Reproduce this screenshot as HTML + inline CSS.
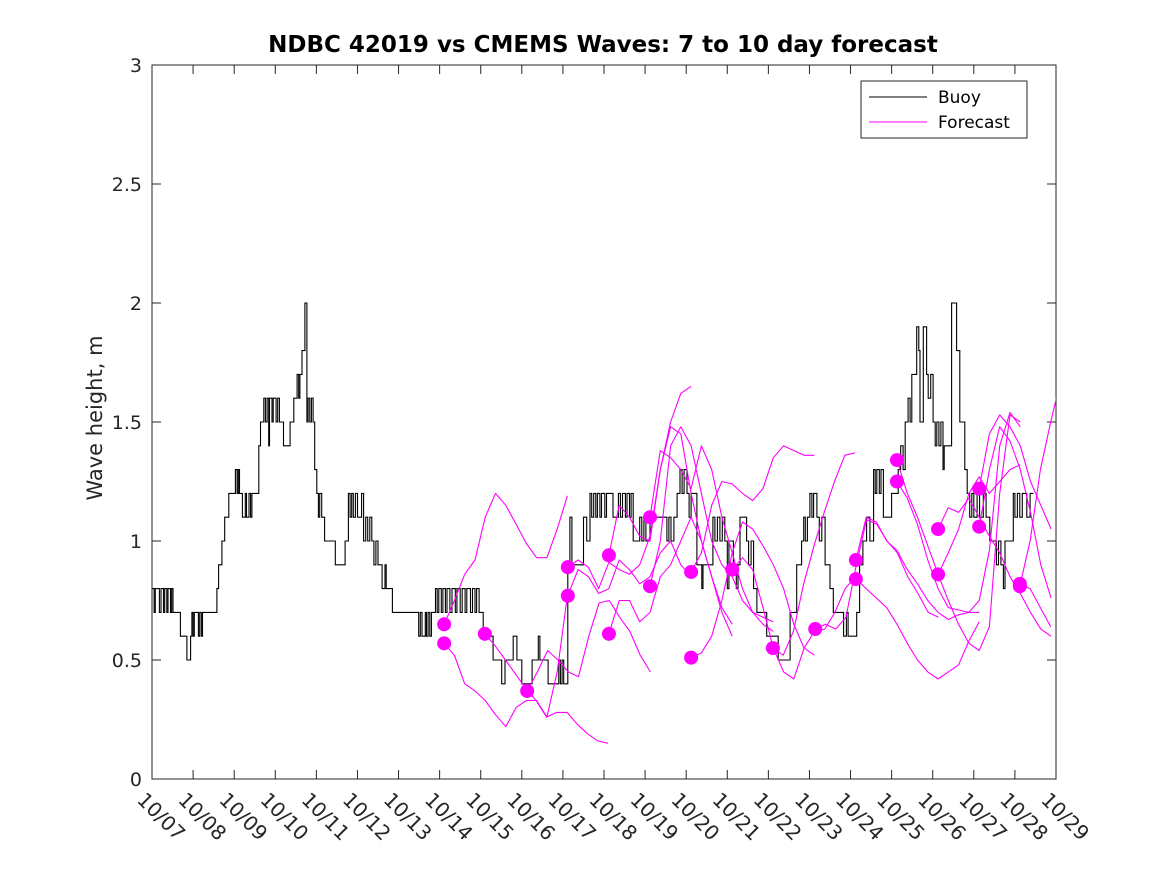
<!DOCTYPE html>
<html><head><meta charset="utf-8">
<style>
html,body{margin:0;padding:0;background:#fff;}
svg{display:block;font-family:"DejaVu Sans","Liberation Sans",sans-serif;}
</style></head>
<body>
<svg id="chart" width="1167" height="875" viewBox="0 0 1167 875" xmlns="http://www.w3.org/2000/svg">
<rect width="1167" height="875" fill="#fff"/>
<defs><clipPath id="plotclip"><rect x="152" y="65" width="904" height="714"/></clipPath></defs>
<text x="603" y="52" text-anchor="middle" font-size="23" font-weight="bold" fill="#000">NDBC 42019 vs CMEMS Waves: 7 to 10 day forecast</text>
<text transform="translate(102,418) rotate(-90)" text-anchor="middle" font-size="21" fill="#262626">Wave height, m</text>
<g id="axes"></g>
<g id="series" clip-path="url(#plotclip)"></g>
<g>
  <rect x="861" y="81" width="166" height="57" fill="#fff" stroke="#262626" stroke-width="1"/>
  <line x1="869" y1="97" x2="927" y2="97" stroke="#000" stroke-width="1"/>
  <text x="938" y="103" font-size="17" fill="#000">Buoy</text>
  <line x1="869" y1="122" x2="927" y2="122" stroke="#ff00ff" stroke-width="1"/>
  <text x="938" y="128" font-size="17" fill="#000">Forecast</text>
</g>
</svg>
<script>
const xTickLabels = ["10/07","10/08","10/09","10/10","10/11","10/12","10/13","10/14","10/15","10/16","10/17","10/18","10/19","10/20","10/21","10/22","10/23","10/24","10/25","10/26","10/27","10/28","10/29"];
const yTicks = [0,0.5,1,1.5,2,2.5,3];
const yTickLabels = ["0","0.5","1","1.5","2","2.5","3"];
const buoyT = [0,0.05,0.08,0.18,0.22,0.28,0.31,0.36,0.39,0.45,0.48,0.51,0.69,0.85,0.94,0.97,1.00,1.03,1.13,1.16,1.20,1.23,1.58,1.62,1.70,1.77,1.87,2.03,2.07,2.10,2.13,2.20,2.27,2.30,2.36,2.40,2.43,2.60,2.64,2.72,2.76,2.80,2.84,2.86,2.92,2.95,3.02,3.06,3.10,3.20,3.36,3.45,3.53,3.57,3.60,3.65,3.72,3.77,3.80,3.84,3.88,3.92,3.96,4.01,4.05,4.08,4.13,4.20,4.46,4.70,4.78,4.82,4.86,4.90,4.95,5.00,5.10,5.15,5.20,5.25,5.30,5.35,5.40,5.45,5.50,5.60,5.67,5.70,5.85,6.49,6.53,6.57,6.65,6.68,6.72,6.76,6.80,6.90,6.94,6.98,7.04,7.08,7.14,7.18,7.25,7.30,7.38,7.42,7.50,7.55,7.62,7.66,7.75,7.80,7.86,7.90,7.96,8.06,8.30,8.51,8.59,8.79,8.88,9.00,9.25,9.40,9.44,9.64,9.90,9.94,9.98,10.02,10.12,10.17,10.22,10.50,10.58,10.66,10.70,10.75,10.80,10.84,10.90,10.94,11.02,11.06,11.22,11.35,11.40,11.45,11.52,11.56,11.62,11.66,11.71,11.87,11.92,11.97,12.02,12.12,12.53,12.58,12.63,12.70,12.78,12.85,12.90,12.95,13.02,13.07,13.12,13.26,13.38,13.41,13.65,13.70,13.76,13.82,13.88,13.94,14.00,14.04,14.15,14.22,14.26,14.31,14.47,14.52,14.58,14.64,14.72,14.96,15.24,15.53,15.69,15.81,15.86,15.90,15.95,16.01,16.06,16.10,16.18,16.24,16.30,16.38,16.50,16.58,16.83,16.90,16.94,17.15,17.22,17.30,17.39,17.47,17.56,17.60,17.64,17.70,17.74,17.80,18.00,18.16,18.22,18.28,18.33,18.40,18.45,18.49,18.61,18.66,18.69,18.77,18.85,18.89,18.95,19.01,19.06,19.10,19.15,19.20,19.25,19.28,19.46,19.58,19.66,19.78,19.84,19.90,19.95,20.00,20.08,20.14,20.23,20.30,20.39,20.55,20.60,20.66,20.72,20.76,20.96,21.00,21.06,21.12,21.18,21.29,21.37,21.45];
const buoyH = [0.8,0.7,0.8,0.7,0.8,0.7,0.8,0.7,0.8,0.7,0.8,0.7,0.6,0.5,0.6,0.7,0.6,0.7,0.6,0.7,0.6,0.7,0.8,0.9,1.0,1.1,1.2,1.3,1.2,1.3,1.2,1.1,1.2,1.1,1.2,1.1,1.2,1.4,1.5,1.6,1.5,1.6,1.4,1.6,1.5,1.6,1.5,1.6,1.5,1.4,1.5,1.6,1.7,1.6,1.7,1.8,2.0,1.5,1.6,1.5,1.6,1.5,1.3,1.2,1.1,1.2,1.1,1.0,0.9,1.0,1.2,1.1,1.2,1.1,1.2,1.1,1.2,1.0,1.1,1.0,1.1,1.0,0.9,1.0,0.9,0.8,0.9,0.8,0.7,0.6,0.7,0.6,0.7,0.6,0.7,0.6,0.7,0.8,0.7,0.8,0.7,0.8,0.7,0.8,0.7,0.8,0.7,0.8,0.7,0.8,0.7,0.8,0.7,0.8,0.7,0.8,0.7,0.6,0.5,0.4,0.5,0.6,0.5,0.4,0.5,0.6,0.5,0.4,0.5,0.4,0.5,0.4,0.9,1.1,0.9,1.1,1.0,1.2,1.1,1.2,1.1,1.2,1.1,1.2,1.1,1.2,1.1,1.2,1.1,1.2,1.1,1.2,1.1,1.2,1.0,1.1,1.0,1.1,1.0,1.1,1.0,1.1,1.0,1.1,1.2,1.3,1.2,1.3,1.2,1.1,1.2,0.9,0.8,0.9,1.1,1.0,1.1,1.0,1.1,1.0,0.8,1.0,0.9,0.8,0.9,1.1,1.0,0.9,1.0,0.8,0.7,0.6,0.5,0.7,0.9,1.0,1.1,1.0,1.1,1.2,1.1,1.2,1.1,1.0,1.1,0.9,0.8,0.7,0.6,0.7,0.6,0.7,0.9,1.0,1.1,1.0,1.3,1.2,1.3,1.2,1.3,1.1,1.2,1.3,1.4,1.3,1.5,1.6,1.5,1.7,1.9,1.8,1.5,1.9,1.7,1.6,1.7,1.5,1.4,1.5,1.4,1.5,1.3,1.4,2.0,1.8,1.5,1.3,1.2,1.1,1.2,1.1,1.2,1.1,1.2,1.1,1.0,0.9,1.0,0.9,0.8,1.0,1.2,1.1,1.2,1.1,1.2,1.1,1.2,1.2];
const fcStart = [7.11,7.11,8.10,9.13,10.12,10.12,11.12,11.12,12.12,12.12,13.12,13.12,14.12,15.11,16.14,17.13,17.13,18.13,18.13,19.13,19.13,20.13,20.13,21.12,21.12];
const fcVals = [
 [0.65,0.75,0.86,0.92,1.10,1.20,1.15,1.07,0.99,0.93,0.93,1.05,1.19],
 [0.57,0.52,0.40,0.37,0.33,0.27,0.22,0.30,0.33,0.33,0.26,0.45,0.77],
 [0.61,0.56,0.50,0.44,0.38,0.33,0.26,0.28,0.28,0.23,0.19,0.16,0.15],
 [0.37,0.45,0.54,0.50,0.45,0.43,0.60,0.74,0.75,0.68,0.62,0.52,0.45],
 [0.89,0.92,0.89,0.80,0.91,0.88,0.86,0.90,1.02,1.30,1.50,1.62,1.65],
 [0.77,0.88,0.85,0.78,0.80,0.92,0.88,0.82,0.85,0.95,1.00,0.90,0.85],
 [0.94,1.15,1.10,1.02,1.00,1.30,1.48,1.45,1.20,1.00,0.85,0.72,0.65],
 [0.61,0.75,0.75,0.66,0.70,0.85,0.90,1.00,1.10,1.00,0.85,0.70,0.60],
 [1.10,1.38,1.35,1.30,1.22,1.40,1.30,1.10,0.95,0.80,0.70,0.65,0.62],
 [0.81,1.00,1.40,1.48,1.40,1.20,1.00,0.90,0.85,0.75,0.70,0.68,0.66],
 [0.87,0.95,1.15,1.25,1.24,1.20,1.17,1.22,1.35,1.40,1.38,1.36,1.36],
 [0.51,0.53,0.60,0.75,0.95,1.08,1.05,0.98,0.90,0.80,0.65,0.55,0.52],
 [0.88,0.93,0.88,0.72,0.55,0.45,0.42,0.55,0.62,0.63,0.70,0.80,0.85],
 [0.55,0.52,0.62,0.82,0.98,1.12,1.25,1.36,1.37],
 [0.63,0.65,0.63,0.68,0.90,1.09,1.07,1.00,0.95,0.85,0.78,0.70,0.68],
 [0.92,1.10,1.08,1.00,0.96,0.88,0.82,0.75,0.70,0.67,0.69,0.70,0.70],
 [0.84,0.80,0.76,0.72,0.65,0.57,0.50,0.45,0.42,0.45,0.48,0.58,0.66],
 [1.34,1.20,1.10,0.98,0.86,0.75,0.65,0.57,0.54,0.64,1.20,1.53,1.50],
 [1.25,1.18,1.07,0.92,0.80,0.72,0.71,0.70,0.75,0.96,1.40,1.54,1.48],
 [1.05,1.14,1.12,1.18,1.10,1.02,0.95,0.85,0.78,0.70,0.63,0.60],
 [0.86,0.95,1.05,1.20,1.27,1.20,1.25,1.30,1.32],
 [1.22,1.45,1.53,1.48,1.40,1.25,1.15,1.05],
 [1.06,1.30,1.48,1.42,1.30,1.12,0.90,0.76],
 [0.82,0.80,0.72,0.64],
 [0.81,1.00,1.30,1.50,1.68]
];
const fcStep = 0.25;

const X0=152, X1=1056, Y0=779, Y1=65, NDAYS=22, YMAX=3;
const xs = d => X0 + (X1-X0)*d/NDAYS;
const ys = v => Y0 - (Y0-Y1)*v/YMAX;
const NS="http://www.w3.org/2000/svg";
function mk(tag, attrs, parent){const e=document.createElementNS(NS,tag);for(const k in attrs)e.setAttribute(k,attrs[k]);parent.appendChild(e);return e;}

const axes=document.getElementById('axes');
const box=mk('rect',{x:X0,y:Y1,width:X1-X0,height:Y0-Y1,fill:'none',stroke:'#262626','stroke-width':1},axes);


xTickLabels.forEach((lab,i)=>{
  const x=xs(i);
  const t1=mk('line',{x1:x,y1:Y0,x2:x,y2:Y0-9,stroke:'#262626'},axes);
  
  
  const t2=mk('line',{x1:x,y1:Y1,x2:x,y2:Y1+9,stroke:'#262626'},axes);
  
  
  const tx=mk('text',{x:0,y:0,'font-size':20,fill:'#262626',transform:`translate(${x-16},${Y0+22}) rotate(45)`},axes);
  tx.textContent=lab;
  
  
});
yTicks.forEach((v,i)=>{
  const y=ys(v);
  const t1=mk('line',{x1:X0,y1:y,x2:X0+9,y2:y,stroke:'#262626'},axes);
  
  
  const t2=mk('line',{x1:X1,y1:y,x2:X1-9,y2:y,stroke:'#262626'},axes);
  
  
  const tx=mk('text',{x:X0-10,y:y+7,'text-anchor':'end','font-size':19,fill:'#262626'},axes);
  tx.textContent=yTickLabels[i];
  
  
});

const series=document.getElementById('series');
let d='';
for(let i=0;i<buoyT.length;i++){
  const x=xs(buoyT[i]).toFixed(1), y=ys(buoyH[i]).toFixed(1);
  if(i===0) d+=`M${x},${y}`; else d+=`H${x}V${y}`;
}
const bl=mk('path',{d:d,fill:'none',stroke:'#000','stroke-width':1.1},series);



fcVals.forEach((vals,k)=>{
  const pts=vals.map((v,j)=>`${xs(fcStart[k]+j*fcStep).toFixed(1)},${ys(v).toFixed(1)}`).join(' ');
  const pl=mk('polyline',{points:pts,fill:'none',stroke:'#ff00ff','stroke-width':1.1,'stroke-linejoin':'round'},series);
  
  
});
fcVals.forEach((vals,k)=>{
  const c=mk('circle',{cx:xs(fcStart[k]),cy:ys(vals[0]),r:7,fill:'#ff00ff'},series);
  
  
});
</script>
</body></html>
